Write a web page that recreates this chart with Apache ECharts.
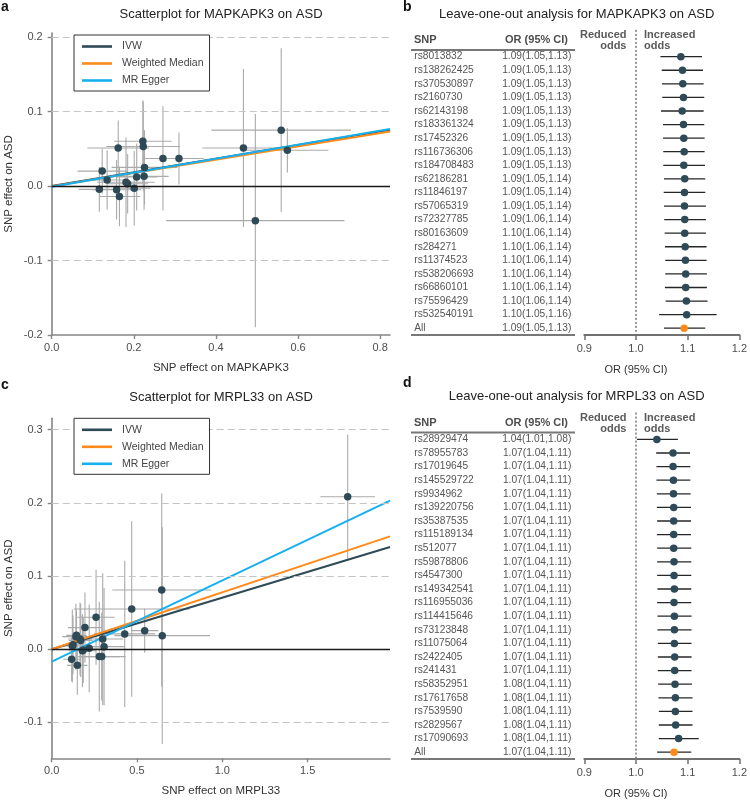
<!DOCTYPE html>
<html><head><meta charset="utf-8">
<script src="https://cdn.jsdelivr.net/npm/echarts@6/dist/echarts.min.js"></script>
<style>html,body{margin:0;padding:0;background:#fff}#c{width:750px;height:800px}</style>
</head><body><div id="c"></div>
<script>
// ---------- Panel a : scatter MAPKAPK3 ----------
const aX  = [0.123,0.135,0.116,0.162,0.158,0.165,0.181,0.201,0.207,0.222,0.223,0.226,0.225,0.271,0.310,0.467,0.559,0.574,0.496,0.185];
const aY  = [0.020,0.008,-0.0045,0.051,-0.005,-0.014,0.005,-0.003,0.012,0.060,0.053,0.025,0.013,0.037,0.037,0.051,0.075,0.048,-0.0465,0.003];
const aXe = [0.06,0.05,0.05,0.075,0.06,0.05,0.07,0.04,0.05,0.07,0.09,0.08,0.06,0.05,0.06,0.10,0.17,0.10,0.217,0.05];
const aYe = [0.03,0.04,0.03,0.037,0.04,0.04,0.06,0.05,0.045,0.055,0.06,0.05,0.045,0.07,0.035,0.106,0.11,0.03,0.143,0.04];
const aIntercepts = [0, -0.0005, -0.001];
const aSlopes     = [0.0915, 0.0893, 0.094];
const aXTicks = [0, 0.2, 0.4, 0.6, 0.8];
const aYTicks = [-0.2, -0.1, 0, 0.1, 0.2];
const aDash   = [0.2, 0.1, -0.1];

// ---------- Panel c : scatter MRPL33 ----------
const cX  = [0.645,0.469,0.260,0.195,0.142,0.166,0.121,0.180,0.220,0.299,0.307,0.279,0.293,0.117,0.150,0.428,0.545,0.648,1.735,0.125,0.170,0.185,0.145];
const cY  = [0.081,0.055,0.0437,0.0296,0.0172,0.014,0.0045,-0.002,0.0013,0.014,0.0036,-0.010,-0.010,-0.0137,-0.022,0.021,0.0254,0.0186,0.2085,0.006,0.012,-0.001,0.019];
const cXe = [0.29,0.34,0.11,0.10,0.08,0.07,0.06,0.08,0.10,0.12,0.12,0.12,0.14,0.05,0.06,0.18,0.08,0.28,0.16,0.06,0.07,0.05,0.06];
const cYe = [0.132,0.12,0.065,0.048,0.045,0.05,0.05,0.05,0.06,0.09,0.08,0.075,0.06,0.03,0.04,0.10,0.03,0.148,0.085,0.04,0.05,0.045,0.035];
const cIntercepts = [0, 0, -0.017];
const cSlopes     = [0.0705, 0.0778, 0.111];
const cXTicks = [0, 0.5, 1.0, 1.5];
const cYTicks = [-0.1, 0, 0.1, 0.2, 0.3];
const cDash   = [0.3, 0.2, 0.1, -0.1];

const methodNames  = ['IVW', 'Weighted Median', 'MR Egger'];
const methodColors = ['#2e4a56', '#ff8a1c', '#17b0ee'];

// ---------- Panel b : leave-one-out MAPKAPK3 ----------
const bSnp = ['rs8013832','rs138262425','rs370530897','rs2160730','rs62143198','rs183361324','rs17452326','rs116736306','rs184708483','rs62186281','rs11846197','rs57065319','rs72327785','rs80163609','rs284271','rs11374523','rs538206693','rs66860101','rs75596429','rs532540191','All'];
const bText = ['1.09(1.05,1.13)','1.09(1.05,1.13)','1.09(1.05,1.13)','1.09(1.05,1.13)','1.09(1.05,1.13)','1.09(1.05,1.13)','1.09(1.05,1.13)','1.09(1.05,1.13)','1.09(1.05,1.13)','1.09(1.05,1.14)','1.09(1.05,1.14)','1.09(1.05,1.14)','1.09(1.06,1.14)','1.10(1.06,1.14)','1.10(1.06,1.14)','1.10(1.06,1.14)','1.10(1.06,1.14)','1.10(1.06,1.14)','1.10(1.06,1.14)','1.10(1.05,1.16)','1.09(1.05,1.13)'];
const bOr = [1.0868,1.0900,1.0906,1.0919,1.0894,1.0919,1.0925,1.0932,1.0925,1.0943,1.0938,1.0938,1.0943,1.0943,1.0951,1.0957,1.0962,1.0962,1.0975,1.0981,1.0932];
const bLo = [1.0472,1.0498,1.0504,1.0509,1.0485,1.0522,1.0522,1.0528,1.0528,1.0542,1.0536,1.0542,1.0547,1.0555,1.0560,1.0566,1.0566,1.0560,1.0574,1.0447,1.0542];
const bHi = [1.1277,1.1296,1.1309,1.1321,1.1309,1.1321,1.1328,1.1328,1.1334,1.1340,1.1340,1.1353,1.1353,1.1353,1.1366,1.1366,1.1372,1.1372,1.1385,1.1560,1.1340];

// ---------- Panel d : leave-one-out MRPL33 ----------
const dSnp = ['rs28929474','rs78955783','rs17019645','rs145529722','rs9934962','rs139220756','rs35387535','rs115189134','rs512077','rs59878806','rs4547300','rs149342541','rs116955036','rs114415646','rs73123848','rs11075064','rs2422405','rs241431','rs58352951','rs17617658','rs7539590','rs2829567','rs17090693','All'];
const dText = ['1.04(1.01,1.08)','1.07(1.04,1.11)','1.07(1.04,1.11)','1.07(1.04,1.11)','1.07(1.04,1.11)','1.07(1.04,1.11)','1.07(1.04,1.11)','1.07(1.04,1.11)','1.07(1.04,1.11)','1.07(1.04,1.11)','1.07(1.04,1.11)','1.07(1.04,1.11)','1.07(1.04,1.11)','1.07(1.04,1.11)','1.07(1.04,1.11)','1.07(1.04,1.11)','1.07(1.04,1.11)','1.07(1.04,1.11)','1.08(1.04,1.11)','1.08(1.04,1.11)','1.08(1.04,1.11)','1.08(1.04,1.11)','1.08(1.04,1.11)','1.07(1.04,1.11)'];
const dOr = [1.0404,1.0717,1.0717,1.0725,1.0725,1.0730,1.0730,1.0730,1.0730,1.0736,1.0736,1.0743,1.0736,1.0743,1.0743,1.0743,1.0749,1.0749,1.0755,1.0762,1.0762,1.0768,1.0825,1.0736];
const dLo = [1.0019,1.0391,1.0396,1.0396,1.0404,1.0404,1.0409,1.0404,1.0409,1.0409,1.0409,1.0415,1.0409,1.0415,1.0415,1.0423,1.0423,1.0423,1.0428,1.0434,1.0442,1.0442,1.0442,1.0409];
const dHi = [1.0811,1.1045,1.1051,1.1051,1.1057,1.1064,1.1064,1.1064,1.1070,1.1070,1.1070,1.1070,1.1070,1.1075,1.1075,1.1075,1.1075,1.1075,1.1083,1.1094,1.1094,1.1094,1.1215,1.1070];
const forestTicks = [0.9, 1.0, 1.1, 1.2];

// ---------- styling ----------
const FONT = "'Liberation Sans', Arial, Helvetica, sans-serif";
const AXIS_COLOR = '#858585';
const LABEL_COLOR = '#4d4d4d';
const POINT_COLOR = '#2e4a56';
const ALL_COLOR = '#ff8a1c';
const ERR_COLOR = '#aaaaaa';

const chart = echarts.init(document.getElementById('c'), null, {renderer: 'canvas'});

function scatterAxes(gi, xmax, ymin, ymax, xTicks, yTicks, xName, yName) {
  const fmt = v => Number(v).toFixed(1);
  const x = {
    type: 'value', gridIndex: gi, min: 0, max: xmax,
    axisLine: {show: true, onZero: false, lineStyle: {color: AXIS_COLOR, width: 1.6}},
    axisTick: {show: true, length: 4, customValues: xTicks, lineStyle: {color: AXIS_COLOR, width: 1.4}},
    axisLabel: {customValues: xTicks, formatter: fmt, fontSize: 11, color: LABEL_COLOR, margin: 7, fontFamily: FONT},
    splitLine: {show: false},
    name: xName, nameLocation: 'middle', nameGap: 27,
    nameTextStyle: {fontSize: 11.5, color: '#333', fontFamily: FONT}
  };
  const y = {
    type: 'value', gridIndex: gi, min: ymin, max: ymax,
    axisLine: {show: true, onZero: false, lineStyle: {color: AXIS_COLOR, width: 1.6}},
    axisTick: {show: true, length: 4, customValues: yTicks, lineStyle: {color: AXIS_COLOR, width: 1.4}},
    axisLabel: {customValues: yTicks, formatter: fmt, fontSize: 11, color: LABEL_COLOR, margin: 9, fontFamily: FONT},
    splitLine: {show: false},
    name: yName, nameLocation: 'middle', nameGap: 37,
    nameTextStyle: {fontSize: 11.5, color: '#333', fontFamily: FONT}
  };
  return [x, y];
}

function scatterSeries(gi, X, Y, XE, YE, ints, slopes, xmax, dashVals) {
  const out = [];
  out.push({
    type: 'line', xAxisIndex: gi, yAxisIndex: gi, data: [], z: 1, silent: true,
    markLine: {
      silent: true, symbol: 'none', label: {show: false}, animation: false,
      data: dashVals.map(v => ({yAxis: v, lineStyle: {color: '#c4c4c4', type: [7, 4], width: 1}}))
        .concat([{yAxis: 0, lineStyle: {color: '#1a1a1a', type: 'solid', width: 1.3}}])
    }
  });
  out.push({
    type: 'custom', xAxisIndex: gi, yAxisIndex: gi, z: 2, silent: true, clip: true,
    data: X.map((x, i) => [x, Y[i], XE[i], YE[i]]),
    encode: {x: 0, y: 1},
    renderItem: function (params, api) {
      const x = api.value(0), y = api.value(1), xe = api.value(2), ye = api.value(3);
      const h1 = api.coord([x - xe, y]), h2 = api.coord([x + xe, y]);
      const v1 = api.coord([x, y - ye]), v2 = api.coord([x, y + ye]);
      const st = {stroke: ERR_COLOR, lineWidth: 1.1};
      return {type: 'group', children: [
        {type: 'line', shape: {x1: h1[0], y1: h1[1], x2: h2[0], y2: h2[1]}, style: st},
        {type: 'line', shape: {x1: v1[0], y1: v1[1], x2: v2[0], y2: v2[1]}, style: st}
      ]};
    }
  });
  methodNames.forEach((nm, k) => {
    out.push({
      type: 'line', name: nm, xAxisIndex: gi, yAxisIndex: gi, z: 3, silent: true,
      symbol: 'none', clip: true, animation: false,
      data: [[0, ints[k]], [xmax, ints[k] + slopes[k] * xmax]],
      lineStyle: {color: methodColors[k], width: 2},
      itemStyle: {color: methodColors[k]}
    });
  });
  out.push({
    type: 'scatter', xAxisIndex: gi, yAxisIndex: gi, z: 4, silent: true,
    symbolSize: 7.5, itemStyle: {color: POINT_COLOR, opacity: 1},
    data: X.map((x, i) => [x, Y[i]])
  });
  return out;
}

function forestAxes(gi, snps, texts) {
  const x = {
    type: 'value', gridIndex: gi, min: 0.9, max: 1.2, interval: 0.1,
    axisLine: {show: true, onZero: false, lineStyle: {color: '#707070', width: 2}},
    axisTick: {show: true, length: 5, lineStyle: {color: '#707070', width: 1.5}},
    axisLabel: {formatter: v => Number(v).toFixed(1), fontSize: 11, color: LABEL_COLOR, margin: 8, fontFamily: FONT},
    splitLine: {show: false}
  };
  const y = {
    type: 'category', gridIndex: gi, data: snps, inverse: true,
    axisLine: {show: false}, axisTick: {show: false}, splitLine: {show: false},
    axisLabel: {
      margin: 13, interval: 0,
      formatter: (v, idx) => '{a|' + v + '}{b|' + texts[idx] + '}',
      rich: {
        a: {width: 87, align: 'left', fontSize: 10.2, color: '#555', fontFamily: FONT},
        b: {width: 70, align: 'right', fontSize: 10.2, color: '#555', fontFamily: FONT}
      }
    }
  };
  return [x, y];
}

function forestSeries(gi, ors, los, his) {
  return [
    {
      type: 'custom', xAxisIndex: gi, yAxisIndex: gi, z: 2, silent: true, clip: false,
      data: ors.map((o, i) => [o, i, los[i], his[i]]),
      encode: {x: 0, y: 1},
      renderItem: function (params, api) {
        const row = api.value(1);
        const p1 = api.coord([api.value(2), row]);
        const p2 = api.coord([api.value(3), row]);
        return {type: 'line', shape: {x1: p1[0], y1: p1[1], x2: p2[0], y2: p2[1]},
                style: {stroke: '#262626', lineWidth: 1.3}};
      }
    },
    {
      type: 'scatter', xAxisIndex: gi, yAxisIndex: gi, z: 4, silent: true, symbolSize: 7.5,
      data: ors.map((o, i) => ({value: [o, i],
        itemStyle: {color: i === ors.length - 1 ? ALL_COLOR : POINT_COLOR, opacity: 1}}))
    }
  ];
}

const [ax, ay] = scatterAxes(0, 0.824, -0.2, 0.2054, aXTicks, aYTicks, 'SNP effect on MAPKAPK3', 'SNP effect on ASD');
const [bx, by] = forestAxes(1, bSnp, bText);
const [cx, cy] = scatterAxes(2, 1.983, -0.149, 0.3156, cXTicks, cYTicks, 'SNP effect on MRPL33', 'SNP effect on ASD');
const [dx, dy] = forestAxes(3, dSnp, dText);

const legendBase = {
  data: methodNames.map(n => ({name: n, icon: 'rect'})),
  orient: 'vertical', left: 74, itemWidth: 30, itemHeight: 2.6, itemGap: 4,
  borderColor: '#333', borderWidth: 1, padding: [5, 6, 4, 8], selectedMode: false,
  backgroundColor: '#ffffff', z: 20,
  textStyle: {fontSize: 10.5, color: '#444', fontFamily: FONT, lineHeight: 13, padding: [0, 0, 0, 5]}
};

chart.setOption({
  animation: false,
  textStyle: {fontFamily: FONT},
  grid: [
    {left: 51.7, top: 33, width: 338.3, height: 302},
    {left: 584.3, top: 49.9, width: 159, height: 285.1},
    {left: 51.7, top: 418.3, width: 338.3, height: 340},
    {left: 584.3, top: 432.6, width: 159, height: 326.4}
  ],
  xAxis: [ax, bx, cx, dx],
  yAxis: [ay, by, cy, dy],
  legend: [Object.assign({}, legendBase, {top: 35}), Object.assign({}, legendBase, {top: 418.3})],
  series: [].concat(
    scatterSeries(0, aX, aY, aXe, aYe, aIntercepts, aSlopes, 0.824, aDash),
    forestSeries(1, bOr, bLo, bHi),
    scatterSeries(2, cX, cY, cXe, cYe, cIntercepts, cSlopes, 1.983, cDash),
    forestSeries(3, dOr, dLo, dHi)
  )
});

function txt(x, y, text, opt) {
  return {type: 'text', x: x, y: y, silent: true, style: Object.assign({
    text: text, fontFamily: FONT, fontSize: 11, fill: '#444', align: 'left', verticalAlign: 'middle'}, opt || {})};
}
function ln(x1, y1, x2, y2, st) {
  return {type: 'line', silent: true, shape: {x1, y1, x2, y2}, style: st};
}
const g = [];
g.push(txt(221, 14, 'Scatterplot for MAPKAPK3 on ASD', {fontSize: 13, fill: '#222', align: 'center'}));
g.push(txt(221, 397, 'Scatterplot for MRPL33 on ASD', {fontSize: 13, fill: '#222', align: 'center'}));
g.push(txt(576.7, 14, 'Leave-one-out analysis for MAPKAPK3 on ASD', {fontSize: 13, fill: '#222', align: 'center'}));
g.push(txt(576.7, 396, 'Leave-one-out analysis for MRPL33 on ASD', {fontSize: 13, fill: '#222', align: 'center'}));
g.push(txt(1, 7, 'a', {fontSize: 14, fontWeight: 'bold', fill: '#111'}));
g.push(txt(403, 7, 'b', {fontSize: 14, fontWeight: 'bold', fill: '#111'}));
g.push(txt(1, 385, 'c', {fontSize: 14, fontWeight: 'bold', fill: '#111'}));
g.push(txt(403, 383, 'd', {fontSize: 14, fontWeight: 'bold', fill: '#111'}));

[[1, 49.9, 335], [3, 432.6, 759]].forEach(([xi, top, bottom]) => {
  const x1 = chart.convertToPixel({xAxisIndex: xi}, 1.0);
  g.push(ln(x1, top - 20, x1, bottom, {stroke: '#333', lineWidth: 1, lineDash: [2, 2]}));
  g.push(txt(414, top - 10, 'SNP', {fontWeight: 'bold', fill: '#4d4d4d'}));
  g.push(txt(568, top - 10, 'OR (95% CI)', {fontWeight: 'bold', fill: '#4d4d4d', align: 'right'}));
  g.push(txt(x1 - 9.5, top - 15, 'Reduced', {fontWeight: 'bold', fill: '#5a5a5a', align: 'right'}));
  g.push(txt(x1 - 9.5, top - 4, 'odds', {fontWeight: 'bold', fill: '#5a5a5a', align: 'right'}));
  g.push(txt(x1 + 8, top - 15, 'Increased', {fontWeight: 'bold', fill: '#5a5a5a'}));
  g.push(txt(x1 + 8, top - 4, 'odds', {fontWeight: 'bold', fill: '#5a5a5a'}));
  g.push(ln(411, top, 575, top, {stroke: '#777', lineWidth: 2}));
  g.push(ln(411, bottom, 575, bottom, {stroke: '#777', lineWidth: 2}));
  g.push(txt(x1, bottom + 35, 'OR (95% CI)', {fontSize: 11, fill: '#333', align: 'center'}));
});
chart.setOption({graphic: g});
</script>
</body></html>
